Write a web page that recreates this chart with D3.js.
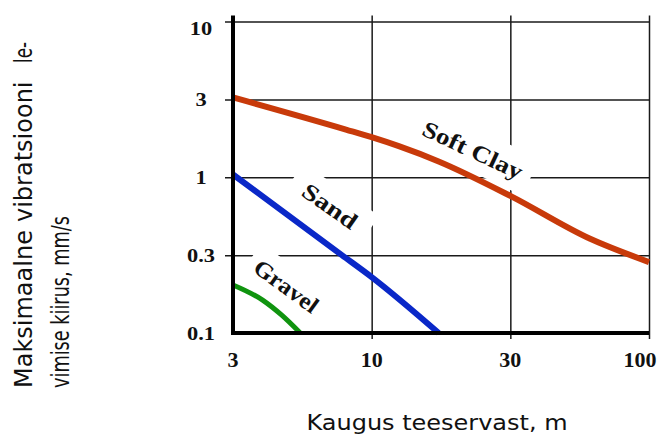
<!DOCTYPE html>
<html>
<head>
<meta charset="utf-8">
<script src="https://cdn.jsdelivr.net/npm/d3@7"></script>
<style>
  body { margin: 0; background: #fff; }
  svg { display: block; }
</style>
</head>
<body>
<div id="graphicContainer"></div>
<script>

// distance from road edge (m) and peak vibration velocity (mm/s)
var xTicks = [3, 10, 30, 100]
var yTicks = [0.1, 0.3, 1, 3, 10]

var softClay = [[3, 3.09], [8.0, 1.96], [10, 1.76], [12.4, 1.55], [17, 1.25], [30, 0.75], [60, 0.386], [100, 0.272]]
var sand = [[3, 1.04], [7.72, 0.3], [10, 0.22], [17, 0.1]]
var gravel = [[3, 0.197], [3.88, 0.159], [4.57, 0.129], [5.38, 0.1]]

var seriesNames = ["Soft Clay", "Sand", "Gravel"]
var seriesData = [softClay, sand, gravel]

// where the curve names sit, in data units
var labelX = [22.3, 6.97, 4.77]
var labelY = [1.47, 0.642, 0.194]

var yTitle1 = ["Maksimaalne", "vibratsiooni", "le-"]
var yTitle2 = "vimise kiirus, mm/s"
var xTitle = "Kaugus teeservast, m"

function init() {

	var width = 661
	var height = 436
	var margin = {top: 21.5, right: 12, bottom: 103, left: 233}
	var plotW = width - margin.left - margin.right
	var plotH = height - margin.top - margin.bottom

	var colors = ["#c83a0a", "#0a28c8", "#10940f"]
	var lineWidths = [6, 6, 5]

	// label styling per series
	var labelAngle = [25, 35, 36]
	var labelLen = [108, 62, 74]
	var labelPad = [[10, 41], [15, 40], [8, 40]]

	d3.select("#graphicContainer svg").remove()

	var svg = d3.select("#graphicContainer").append("svg")
		.attr("width", width)
		.attr("height", height)

	// ticks are evenly spaced, so a piecewise log scale
	var x = d3.scaleLog()
		.domain(xTicks)
		.range(xTicks.map((d, i) => margin.left + i * plotW / (xTicks.length - 1)))

	var y = d3.scaleLog()
		.domain(yTicks)
		.range(yTicks.map((d, i) => margin.top + plotH - i * plotH / (yTicks.length - 1)))

	var x0 = margin.left, x1 = margin.left + plotW
	var y0 = margin.top + plotH, y1 = margin.top

	// grid
	var yGrid = svg.append("g")
		.attr("transform", "translate(" + x0 + ",0)")
		.call(d3.axisLeft(y).tickValues(yTicks.slice(1)).tickSizeInner(-plotW).tickSizeOuter(0).tickFormat(""))
	yGrid.select(".domain").remove()
	yGrid.selectAll(".tick line")
		.attr("x1", -8)
		.attr("stroke", "#1a1a1a")
		.attr("stroke-width", 1.5)

	var xGrid = svg.append("g")
		.attr("transform", "translate(0," + y0 + ")")
		.call(d3.axisBottom(x).tickValues(xTicks.slice(1)).tickSizeInner(-(plotH + 6)).tickSizeOuter(0).tickFormat(""))
	xGrid.select(".domain").remove()
	xGrid.selectAll(".tick line")
		.attr("y1", 6)
		.attr("stroke", "#1a1a1a")
		.attr("stroke-width", 1.5)

	// label boxes + names
	var labels = svg.append("g")
		.selectAll("g")
		.data(seriesNames)
		.enter()
		.append("g")
		.attr("transform", (d, i) => "translate(" + x(labelX[i]) + "," + y(labelY[i]) + ") rotate(" + labelAngle[i] + ")")

	labels.append("rect")
		.attr("x", (d, i) => -labelLen[i] / 2 - labelPad[i][0])
		.attr("y", (d, i) => -labelPad[i][1] / 2)
		.attr("width", (d, i) => labelLen[i] + 2 * labelPad[i][0])
		.attr("height", (d, i) => labelPad[i][1])
		.attr("fill", "#fff")

	labels.append("text")
		.attr("text-anchor", "middle")
		.attr("dy", "0.35em")
		.attr("textLength", (d, i) => labelLen[i])
		.attr("lengthAdjust", "spacingAndGlyphs")
		.style("font-family", "'Liberation Serif', 'Times New Roman', serif")
		.style("font-weight", "bold")
		.style("font-size", "23px")
		.attr("fill", "#111")
		.text(d => d)

	// curves
	var line = d3.line()
		.x(d => x(d[0]))
		.y(d => y(d[1]))
		.curve(d3.curveMonotoneX)

	svg.append("g")
		.selectAll("path")
		.data(seriesData)
		.enter()
		.append("path")
		.attr("d", line)
		.attr("fill", "none")
		.attr("stroke", (d, i) => colors[i])
		.attr("stroke-width", (d, i) => lineWidths[i])

	// axes (thick frame left + bottom)
	svg.append("line")
		.attr("x1", x0).attr("x2", x0)
		.attr("y1", y1 - 6).attr("y2", y0 + 2)
		.attr("stroke", "#000")
		.attr("stroke-width", 4)

	svg.append("line")
		.attr("x1", x0 - 2).attr("x2", x1)
		.attr("y1", y0).attr("y2", y0)
		.attr("stroke", "#000")
		.attr("stroke-width", 4)

	// tick labels
	svg.append("g")
		.selectAll("text")
		.data(yTicks)
		.enter()
		.append("text")
		.attr("transform", d => "translate(" + (x0 - 32) + "," + Math.max(y(d) + 6.5, 35) + ") scale(1.18,1)")
		.attr("text-anchor", "middle")
		.style("font-family", "'Liberation Serif', 'Times New Roman', serif")
		.style("font-weight", "bold")
		.style("font-size", "19px")
		.attr("fill", "#111")
		.text(d => d)

	svg.append("g")
		.selectAll("text")
		.data(xTicks)
		.enter()
		.append("text")
		.attr("transform", (d, i) => "translate(" + Math.min(x(d), width - 21) + "," + (y0 + 34) + ") scale(1.1,1)")
		.attr("text-anchor", "middle")
		.style("font-family", "'Liberation Serif', 'Times New Roman', serif")
		.style("font-weight", "bold")
		.style("font-size", "20px")
		.attr("fill", "#111")
		.text(d => d)

	// axis titles
	var sans = "'DejaVu Sans', Verdana, sans-serif"

	var yStarts = [388, 222, 63]
	var yLens = [null, null, 21]

	svg.append("g")
		.selectAll("text")
		.data(yTitle1)
		.enter()
		.append("text")
		.attr("transform", (d, i) => "translate(32," + yStarts[i] + ") rotate(-90)")
		.attr("textLength", (d, i) => yLens[i])
		.attr("lengthAdjust", "spacingAndGlyphs")
		.style("font-family", sans)
		.style("font-size", "24px")
		.attr("fill", "#111")
		.text(d => d)

	svg.append("text")
		.attr("transform", "translate(69,388) rotate(-90)")
		.attr("textLength", 172)
		.attr("lengthAdjust", "spacingAndGlyphs")
		.style("font-family", sans)
		.style("font-size", "24px")
		.attr("fill", "#111")
		.text(yTitle2)

	svg.append("text")
		.attr("x", 437)
		.attr("y", 430)
		.attr("text-anchor", "middle")
		.attr("textLength", 261)
		.attr("lengthAdjust", "spacingAndGlyphs")
		.style("font-family", sans)
		.style("font-size", "22px")
		.attr("fill", "#111")
		.text(xTitle)

}

init()

</script>
</body>
</html>
